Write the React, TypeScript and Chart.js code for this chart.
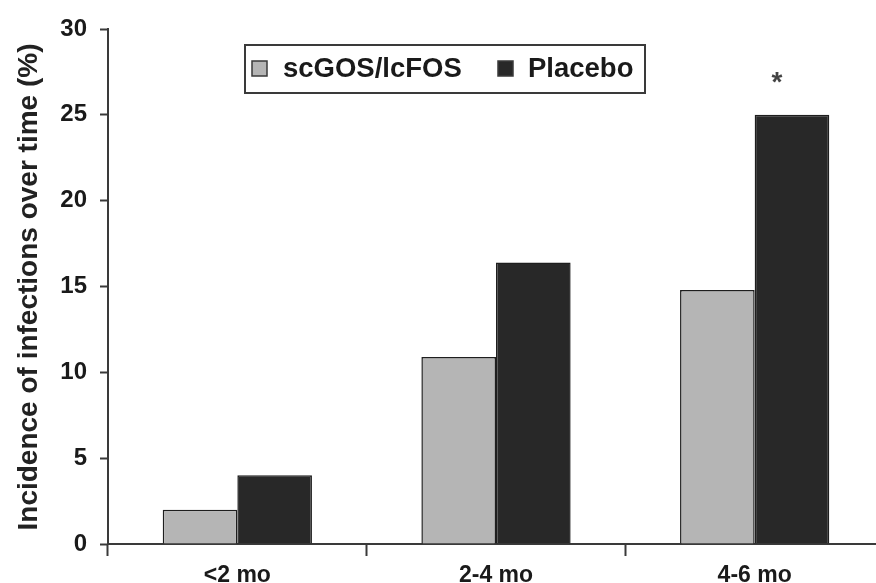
import React, { useEffect, useRef } from "react";
import { Chart, registerables } from "chart.js";

Chart.register(...registerables);

const categories = ["<2 mo", "2-4 mo", "4-6 mo"];
const seriesNames = ["scGOS/lcFOS", "Placebo"];
const scgosValues = [2.0, 10.9, 14.8];
const placeboValues = [4.0, 16.4, 25.0];
const yTicks = [0, 5, 10, 15, 20, 25, 30];
const yTitle = "Incidence of infections over time (%)";
const significanceMark = "*";

const FONT = '"Liberation Sans", Arial, sans-serif';
const GRAY = "#b5b5b5";
const DARK = "#282828";
const LINE = "#3a3a3a";

const overlayPlugin = {
  id: "overlay",
  afterDraw(chart: any) {
    const ctx = chart.ctx;
    ctx.save();
    // y-axis title
    ctx.translate(29, 287);
    ctx.rotate(-Math.PI / 2);
    ctx.fillStyle = "#222";
    ctx.font = `bold 28px ${FONT}`;
    ctx.textAlign = "center";
    ctx.textBaseline = "middle";
    ctx.fillText(yTitle, 0, 0);
    ctx.restore();

    // legend box
    ctx.save();
    ctx.strokeStyle = LINE;
    ctx.lineWidth = 2;
    ctx.strokeRect(245, 45, 400, 48);
    const items = [
      { x: 252, color: GRAY, tx: 283 },
      { x: 498, color: DARK, tx: 528 },
    ];
    ctx.font = `bold 27.5px ${FONT}`;
    ctx.textBaseline = "middle";
    ctx.textAlign = "left";
    items.forEach((it, i) => {
      ctx.fillStyle = it.color;
      ctx.fillRect(it.x, 61, 15, 15);
      ctx.lineWidth = 1.5;
      ctx.strokeStyle = LINE;
      ctx.strokeRect(it.x, 61, 15, 15);
      ctx.fillStyle = "#1a1a1a";
      ctx.fillText(seriesNames[i], it.tx, 69);
    });
    ctx.restore();

    // significance asterisk above placebo bar of last group
    const meta = chart.getDatasetMeta(1);
    const bar = meta.data[2];
    if (bar) {
      ctx.save();
      ctx.fillStyle = "#444";
      ctx.font = `bold 28px ${FONT}`;
      ctx.textAlign = "center";
      ctx.textBaseline = "middle";
      ctx.fillText(significanceMark, bar.x - 15, bar.y - 32);
      ctx.restore();
    }
  },
};

export default function App() {
  const ref = useRef<HTMLCanvasElement | null>(null);

  useEffect(() => {
    if (!ref.current) return;
    const chart = new Chart(ref.current, {
      type: "bar",
      data: {
        labels: categories,
        datasets: [
          {
            label: seriesNames[0],
            data: scgosValues,
            backgroundColor: GRAY,
            borderColor: "#1e1e1e",
            borderWidth: 1.5,
            categoryPercentage: 0.577,
            barPercentage: 1.0,
          },
          {
            label: seriesNames[1],
            data: placeboValues,
            backgroundColor: DARK,
            borderColor: "#1e1e1e",
            borderWidth: 1.5,
            categoryPercentage: 0.577,
            barPercentage: 1.0,
          },
        ],
      },
      options: {
        animation: false,
        responsive: false,
        maintainAspectRatio: false,
        devicePixelRatio: 1,
        layout: { padding: { top: 29, left: 0, right: 0, bottom: 0 } },
        plugins: {
          legend: { display: false },
          tooltip: { enabled: false },
          title: { display: false },
        },
        scales: {
          x: {
            type: "category",
            offset: true,
            grid: {
              offset: true,
              drawOnChartArea: false,
              drawTicks: true,
              tickLength: 12,
              tickWidth: 2,
              tickColor: LINE,
            },
            border: { display: true, color: LINE, width: 2 },
            ticks: {
              color: "#1a1a1a",
              padding: 6,
              font: { family: FONT, size: 23, weight: "bold" },
              maxRotation: 0,
              autoSkip: false,
            },
            afterFit(scale: any) {
              scale.height = 39;
            },
          },
          y: {
            type: "linear",
            min: 0,
            max: 30,
            afterBuildTicks(scale: any) {
              scale.ticks = yTicks.map((v) => ({ value: v }));
            },
            grid: {
              drawOnChartArea: false,
              drawTicks: true,
              tickLength: 8,
              tickWidth: 2,
              tickColor: LINE,
            },
            border: { display: true, color: LINE, width: 2 },
            ticks: {
              color: "#1a1a1a",
              padding: 13,
              font: { family: FONT, size: 24, weight: "bold" },
            },
            afterFit(scale: any) {
              scale.width = 108;
            },
          },
        },
      },
      plugins: [overlayPlugin],
    } as any);
    return () => chart.destroy();
  }, []);

  return (
    <div
      style={{
        position: "fixed",
        left: 0,
        top: 0,
        width: 876,
        height: 583,
        overflow: "hidden",
        background: "#fff",
      }}
    >
      <canvas ref={ref} width={884} height={583} style={{ display: "block", width: 884, height: 583 }} />
    </div>
  );
}
